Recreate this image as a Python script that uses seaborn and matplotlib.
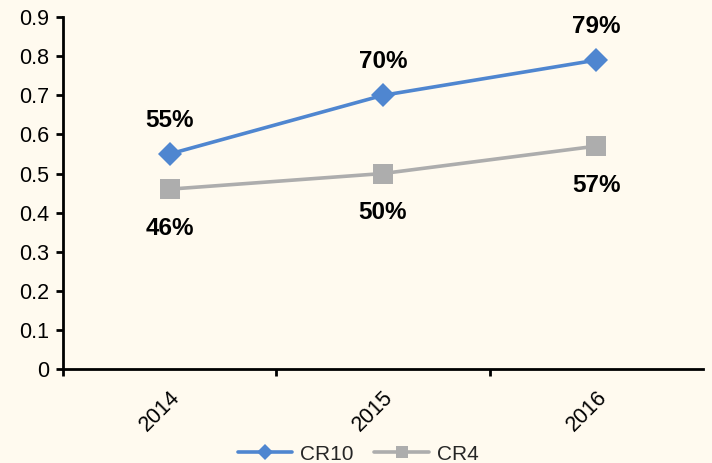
import matplotlib
matplotlib.use("Agg")
import matplotlib.pyplot as plt
import seaborn as sns
import pandas as pd

years = ["2014", "2015", "2016"]
cr10 = [0.55, 0.70, 0.79]
cr4 = [0.46, 0.50, 0.57]

BG = "#FFFAEF"
BLUE = "#4F86D0"
GRAY = "#ADADAD"

sns.set_theme(style="white")
plt.rcParams["font.family"] = ["Liberation Sans", "DejaVu Sans"]

df = pd.DataFrame({
    "pos": list(range(len(years))) * 2,
    "value": cr10 + cr4,
    "series": ["CR10"] * len(years) + ["CR4"] * len(years),
})

fig = plt.figure(figsize=(7.12, 4.63), dpi=100, facecolor=BG)
ax = fig.add_axes([0.0885, 0.203, 0.8985, 0.760])
ax.set_facecolor(BG)

sns.lineplot(
    data=df, x="pos", y="value", hue="series", style="series",
    palette={"CR10": BLUE, "CR4": GRAY},
    markers={"CR10": "D", "CR4": "s"}, dashes=False,
    linewidth=2.6, markersize=12, markeredgewidth=0,
    ax=ax, legend=False,
)
# the square marker is drawn a bit larger than the diamond
for line, ms in zip(ax.lines, [12.5, 14.5]):
    line.set_markersize(ms)

# value labels: CR10 above its points, CR4 below
for i, v in enumerate(cr10):
    ax.annotate(f"{round(v * 100)}%", (i, v), xytext=(0, 24), textcoords="offset points",
                ha="center", va="center", fontsize=17.5, fontweight="bold", color="black")
for i, v in enumerate(cr4):
    ax.annotate(f"{round(v * 100)}%", (i, v), xytext=(0, -28), textcoords="offset points",
                ha="center", va="center", fontsize=17.5, fontweight="bold", color="black")

ax.set_xlim(-0.5, 2.5)
ax.set_ylim(0, 0.9)
ax.set_yticks([i / 10 for i in range(10)])
ax.set_yticklabels(["0"] + [f"0.{i}" for i in range(1, 10)])
ax.set_xticks(range(len(years)))
ax.set_xticklabels(years, rotation=45, ha="right", rotation_mode="anchor")
ax.set_xticks([-0.5, 0.5, 1.5], minor=True)
ax.tick_params(axis="x", which="major", length=0, pad=13, labelsize=15.5, colors="black")
ax.tick_params(axis="x", which="minor", length=5, width=2, direction="out", colors="black", bottom=True)
ax.tick_params(axis="y", length=5, width=2, direction="out", labelsize=15.5, colors="black", left=True, pad=5)
ax.set_xlabel("")
ax.set_ylabel("")

for side in ["top", "right"]:
    ax.spines[side].set_visible(False)
for side in ["left", "bottom"]:
    ax.spines[side].set_color("black")
    ax.spines[side].set_linewidth(2)

handles = [
    plt.Line2D([], [], color=BLUE, lw=2.6, marker="D", ms=8, mew=0),
    plt.Line2D([], [], color=GRAY, lw=2.6, marker="s", ms=9, mew=0),
]
fig.legend(handles, ["CR10", "CR4"], loc="lower center", bbox_to_anchor=(0.503, -0.042),
           ncol=2, frameon=False, fontsize=15, handlelength=2.6, columnspacing=1.0,
           handletextpad=0.4)

fig.savefig("out.png", dpi=100, facecolor=BG)
